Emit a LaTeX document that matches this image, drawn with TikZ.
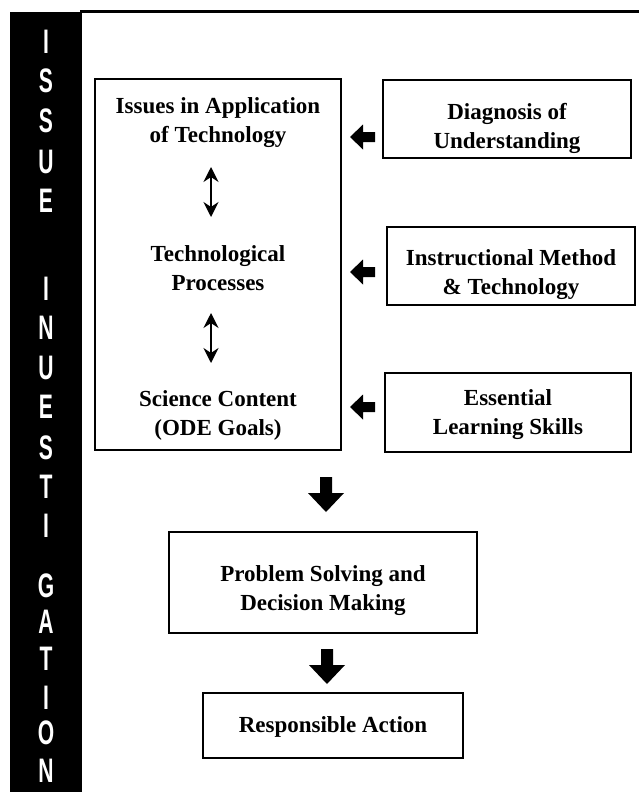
\documentclass[tikz,border=0pt]{standalone}
\usepackage{fontspec}
\usepackage{graphicx}
\setmainfont{Liberation Serif}
\newfontfamily\stripfont{Liberation Sans}
\usetikzlibrary{arrows.meta}
\tikzset{
  boxx/.style={draw, line width=1.6pt, rectangle, inner sep=0pt},
  lbl/.style={align=center, font=\fontsize{23}{29}\selectfont\bfseries, inner sep=0pt},
  stripletter/.style={text=white, font=\stripfont\fontsize{34}{34}\selectfont\bfseries, inner sep=0pt},
  dbl/.style={line width=1.6pt, {Stealth[length=15pt,width=15pt,inset=5pt]}-{Stealth[length=15pt,width=15pt,inset=5pt]}},
  larrow/.pic={\fill (0,0) -- (13,-12.5) -- (13,-5) -- (25,-5) -- (25,5) -- (13,5) -- (13,12.5) -- cycle;},
  darrow/.pic={\fill (-6,0) -- (6,0) -- (6,16) -- (18,16) -- (0,35) -- (-18,16) -- (-6,16) -- cycle;}
}
\begin{document}
\begin{tikzpicture}[x=1pt,y=-1pt]
\useasboundingbox (0,0) rectangle (639,792);
% left strip
\fill[black] (10,12) rectangle (82,792);
\draw[line width=3pt] (80,12) -- (639,12);
\foreach \L/\Y [count=\i] in {I/42,S/81,S/121,U/162,E/201,I/289,N/328,U/368,E/407,S/448,T/487,I/526,G/586,A/622,T/659,I/698,O/733,N/771}
  \node[stripletter] (L\i) at (46,\Y) {\scalebox{0.62}[1]{\L}};
% boxes
\node[boxx, minimum width=246pt, minimum height=371pt] (main) at (218,264.5) {};
\node[boxx, minimum width=248pt, minimum height=78pt] (diag) at (507,119) {};
\node[boxx, minimum width=248pt, minimum height=78pt] (instr) at (511,266) {};
\node[boxx, minimum width=246pt, minimum height=79pt] (ess) at (508,412.5) {};
\node[boxx, minimum width=308pt, minimum height=101pt] (prob) at (323,582.5) {};
\node[boxx, minimum width=260pt, minimum height=65pt] (resp) at (333,725.5) {};
% texts
\node[lbl] (t1) at (218,122.5) {Issues in Application\\of Technology};
\node[lbl] (t2) at (218,268) {Technological\\Processes};
\node[lbl] (t3) at (218,415) {Science Content\\(ODE Goals)};
\node[lbl] (td) at (507,128.5) {Diagnosis of\\Understanding};
\node[lbl] (ti) at (511,274.5) {Instructional Method\\\& Technology};
\node[lbl] (te) at (508,415) {Essential\\Learning Skills};
\node[lbl] (tp) at (323,591) {Problem Solving and\\Decision Making};
\node[lbl] (tr) at (333,727) {Responsible Action};
% double arrows
\coordinate (d1a) at (211,167);
\coordinate (d1b) at (211,217);
\coordinate (d2a) at (211,313);
\coordinate (d2b) at (211,363);
\draw[dbl] (d1a) -- (d1b);
\draw[dbl] (d2a) -- (d2b);
% block arrows
\pic at (350,137) {larrow};
\pic at (350,272) {larrow};
\pic at (350,407) {larrow};
\pic at (326,477) {darrow};
\pic at (327,649) {darrow};
\end{tikzpicture}
\end{document}
